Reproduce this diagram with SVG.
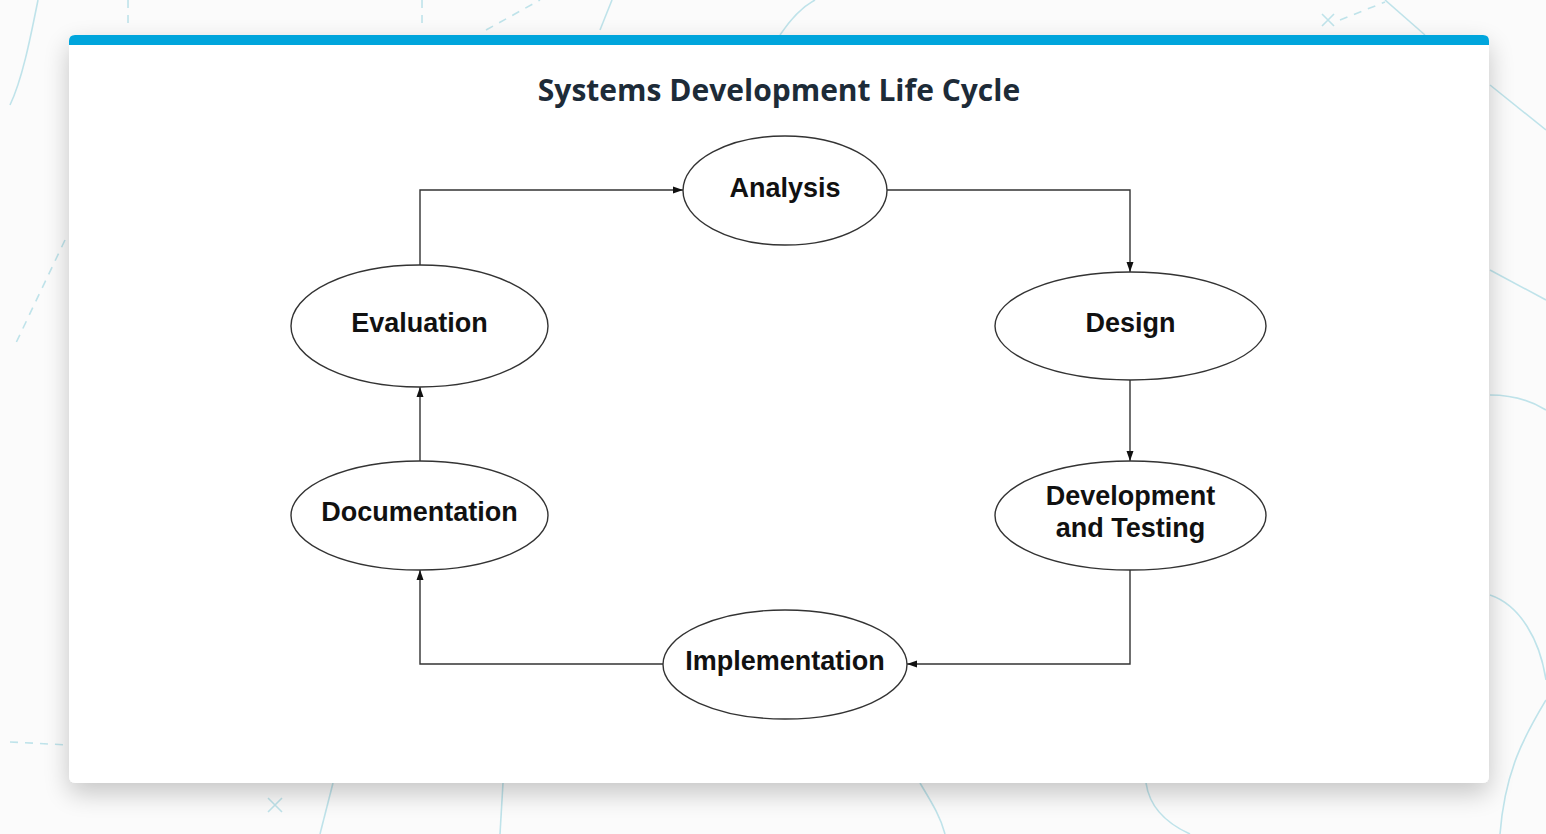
<svg xmlns="http://www.w3.org/2000/svg" width="1546" height="834" viewBox="0 0 1546 834">
<defs>
<style>
.deco{fill:none;stroke:#bfe3ea;stroke-width:1.6}
.dash{fill:none;stroke:#bfe3ea;stroke-width:1.6;stroke-dasharray:8 7}
.node{fill:#ffffff;stroke:#333333;stroke-width:1.4}
.lbl{font-family:"Liberation Sans",Arial,sans-serif;font-weight:bold;font-size:27px;fill:#111111;text-anchor:middle}
.conn{fill:none;stroke:#333333;stroke-width:1.4}
</style>
<marker id="arr" viewBox="0 0 10 10" refX="10" refY="5" markerWidth="10" markerHeight="10" markerUnits="userSpaceOnUse" orient="auto">
<path d="M0,1.5 L10,5 L0,8.5 Z" fill="#111111"/>
</marker>
<filter id="sh" x="-10%" y="-10%" width="120%" height="130%">
<feGaussianBlur in="SourceAlpha" stdDeviation="13"/>
<feOffset dx="0" dy="10"/>
<feComponentTransfer><feFuncA type="linear" slope="0.22"/></feComponentTransfer>
<feMerge><feMergeNode/><feMergeNode in="SourceGraphic"/></feMerge>
</filter>
</defs>
<rect width="1546" height="834" fill="#fbfbfb"/>
<g id="background">
<path class="deco" d="M38,0 C30,40 22,80 10,105"/>
<path class="dash" d="M128,0 L128,30"/>
<path class="dash" d="M422,0 L422,30"/>
<path class="dash" d="M486,30 L540,0"/>
<path class="deco" d="M600,30 L612,0"/>
<path class="deco" d="M780,35 C790,20 800,8 815,0"/>
<path class="dash" d="M1340,20 L1385,2"/>
<path class="deco" d="M1385,0 L1425,35"/>
<path class="deco" d="M1490,85 L1546,130"/>
<path class="deco" d="M1490,270 L1546,300"/>
<path class="deco" d="M1490,395 C1510,395 1530,400 1546,410"/>
<path class="deco" d="M1490,595 C1520,605 1540,640 1546,680"/>
<path class="deco" d="M1546,700 C1525,735 1505,770 1500,834"/>
<path class="dash" d="M10,742 L69,745"/>
<path class="dash" d="M65,240 L15,345"/>
<path class="deco" d="M333,783 L320,834"/>
<path class="deco" d="M503,783 L500,834"/>
<path class="deco" d="M1146,783 C1150,810 1170,825 1190,834"/>
<path class="deco" d="M920,783 C930,800 940,815 945,834"/>
<path class="deco" d="M268,798 L282,812 M282,798 L268,812"/>
<path class="deco" d="M1322,14 L1334,26 M1334,14 L1322,26"/>
</g>
<g id="card" filter="url(#sh)">
<rect x="69" y="35" width="1420" height="748" rx="6" fill="#ffffff"/>
</g>
<path d="M69,45 L69,41 Q69,35 75,35 L1483,35 Q1489,35 1489,41 L1489,45 Z" fill="#00a5dc"/>
<text id="title" x="779" y="101" font-family="'Open Sans','Noto Sans',sans-serif" font-weight="bold" font-size="30" fill="#1d2b38" text-anchor="middle">Systems Development Life Cycle</text>
<g id="connectors">
<path class="conn" d="M420,265 L420,190 L683,190" marker-end="url(#arr)"/>
<path class="conn" d="M887,190 L1130,190 L1130,272" marker-end="url(#arr)"/>
<path class="conn" d="M1130,380 L1130,461" marker-end="url(#arr)"/>
<path class="conn" d="M1130,570 L1130,664 L907,664" marker-end="url(#arr)"/>
<path class="conn" d="M663,664 L420,664 L420,570" marker-end="url(#arr)"/>
<path class="conn" d="M420,461 L420,387" marker-end="url(#arr)"/>
</g>
<g id="analysis">
<ellipse class="node" cx="785" cy="190.5" rx="102" ry="54.5"/>
<text class="lbl" x="785" y="197">Analysis</text>
</g>
<g id="design">
<ellipse class="node" cx="1130.5" cy="326" rx="135.5" ry="54"/>
<text class="lbl" x="1130.5" y="332">Design</text>
</g>
<g id="dev-testing">
<ellipse class="node" cx="1130.5" cy="515.5" rx="135.5" ry="54.5"/>
<text class="lbl" x="1130.5" y="505">Development</text>
<text class="lbl" x="1130.5" y="537">and Testing</text>
</g>
<g id="implementation">
<ellipse class="node" cx="785" cy="664.5" rx="122" ry="54.5"/>
<text class="lbl" x="785" y="670">Implementation</text>
</g>
<g id="documentation">
<ellipse class="node" cx="419.5" cy="515.5" rx="128.5" ry="54.5"/>
<text class="lbl" x="419.5" y="521">Documentation</text>
</g>
<g id="evaluation">
<ellipse class="node" cx="419.5" cy="326" rx="128.5" ry="61"/>
<text class="lbl" x="419.5" y="332">Evaluation</text>
</g>
</svg>
